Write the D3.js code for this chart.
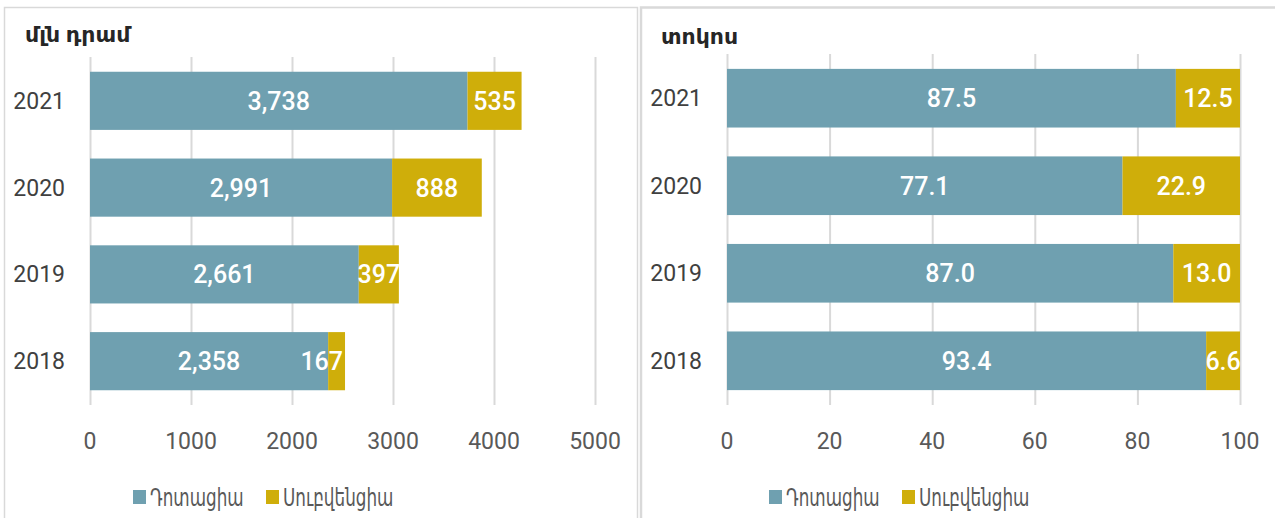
<!DOCTYPE html>
<html lang="hy">
<head>
  <meta charset="UTF-8">
  <title>Դոտացիա և սուբվենցիա</title>
  <script src="https://cdn.jsdelivr.net/npm/d3@7"></script>
  <style>
    body { margin: 0; background: #fff; }
    text { font-family: "Noto Sans", "DejaVu Sans", sans-serif; }
    .num { font-family: Roboto, "Noto Sans", sans-serif; }
  </style>
</head>
<body>
  <script>
    // data
    var years = ["2021", "2020", "2019", "2018"];
    var seriesNames = ["Դոտացիա", "Սուբվենցիա"];
    var amountDotation = [3738, 2991, 2661, 2358];
    var amountSubvention = [535, 888, 397, 167];
    var shareDotation = [87.5, 77.1, 87.0, 93.4];
    var shareSubvention = [12.5, 22.9, 13.0, 6.6];
    var amountTicks = [0, 1000, 2000, 3000, 4000, 5000];
    var shareTicks = [0, 20, 40, 60, 80, 100];

    var colors = ["#6fa0b0", "#cfae0a"];
    var width = 1275, height = 518;

    var svg = d3.select("body").append("svg")
      .attr("width", width)
      .attr("height", height);

    // panel frames
    svg.append("rect").attr("x", 4.5).attr("y", 7.5).attr("width", 633).attr("height", 520)
      .attr("fill", "none").attr("stroke", "#d9d9d9").attr("stroke-width", 1.5);
    svg.append("rect").attr("x", 641).attr("y", 7.5).attr("width", 640).attr("height", 520)
      .attr("fill", "none").attr("stroke", "#d9d9d9").attr("stroke-width", 2.5);

    function drawPanel(opt) {
      var g = svg.append("g");

      var x = d3.scaleLinear().domain(opt.domain).range([opt.x0, opt.x1]);
      var y = d3.scaleBand().domain(years).range([opt.yTop, opt.yBottom]).paddingInner(0.33).paddingOuter(0.17);

      // unit title
      g.append("text").attr("x", opt.titleX).attr("y", opt.titleY)
        .attr("font-size", 22).attr("font-weight", "bold").attr("fill", "#262626")
        .text(opt.title);

      // gridlines
      g.selectAll(".grid").data(opt.ticks).enter().append("line")
        .attr("x1", function(d) { return x(d) + 0.5; })
        .attr("x2", function(d) { return x(d) + 0.5; })
        .attr("y1", opt.gridTop).attr("y2", opt.gridBottom)
        .attr("stroke", "#d9d9d9").attr("stroke-width", 2);

      // tick labels
      g.selectAll(".tick").data(opt.ticks).enter().append("text")
        .attr("class", "num")
        .attr("x", function(d) { return x(d); })
        .attr("y", 449)
        .attr("text-anchor", "middle")
        .attr("font-size", 23).attr("fill", "#595959")
        .text(function(d) { return d; });

      // category labels
      g.selectAll(".cat").data(years).enter().append("text")
        .attr("class", "num")
        .attr("x", opt.x0 - 25)
        .attr("y", function(d) { return y(d) + y.bandwidth() / 2 + 8; })
        .attr("text-anchor", "end")
        .attr("font-size", 23).attr("fill", "#404040")
        .text(function(d) { return d; });

      // stacked bars
      var rows = years.map(function(yr, i) {
        return { year: yr, a: opt.first[i], b: opt.second[i] };
      });

      rows.forEach(function(r) {
        var segs = [
          { start: 0, end: r.a, v: r.a, c: colors[0] },
          { start: r.a, end: r.a + r.b, v: r.b, c: colors[1] }
        ];
        segs.forEach(function(s) {
          g.append("rect")
            .attr("x", x(s.start))
            .attr("y", y(r.year))
            .attr("width", x(s.end) - x(s.start))
            .attr("height", y.bandwidth())
            .attr("fill", s.c);
        });
        segs.forEach(function(s) {
          var w = x(s.end) - x(s.start);
          var narrow = w < 30;
          g.append("text")
            .attr("class", "num")
            .attr("x", narrow ? x(s.end) - 2 : (x(s.start) + x(s.end)) / 2)
            .attr("y", y(r.year) + y.bandwidth() / 2 + 9)
            .attr("text-anchor", narrow ? "end" : "middle")
            .attr("font-size", 25).attr("font-weight", 500).attr("fill", "#fff")
            .text(opt.fmt(s.v));
        });
      });

      // legend
      var lg = g.append("g").attr("transform", "translate(" + opt.legendX + ",0)");
      var offsets = [0, 133];
      seriesNames.forEach(function(name, i) {
        var tx = offsets[i] + 17;
        lg.append("rect").attr("x", offsets[i]).attr("y", 490).attr("width", 13).attr("height", 14)
          .attr("fill", colors[i]);
        lg.append("text").attr("x", tx).attr("y", 506)
          .attr("font-size", 24).attr("fill", "#595959")
          .attr("transform", "translate(" + tx + ",0) scale(0.7,1) translate(" + (-tx) + ",0)")
          .text(name);
      });
    }

    drawPanel({
      title: "մլն դրամ", titleX: 25, titleY: 42,
      domain: [0, 5000], x0: 90, x1: 595,
      yTop: 57, yBottom: 405, gridTop: 57, gridBottom: 405,
      ticks: amountTicks,
      first: amountDotation, second: amountSubvention,
      fmt: d3.format(","),
      legendX: 133
    });

    drawPanel({
      title: "տոկոս", titleX: 661, titleY: 44,
      domain: [0, 100], x0: 727, x1: 1240,
      yTop: 54, yBottom: 405, gridTop: 54, gridBottom: 405,
      ticks: shareTicks,
      first: shareDotation, second: shareSubvention,
      fmt: d3.format(".1f"),
      legendX: 769
    });
  </script>
</body>
</html>
